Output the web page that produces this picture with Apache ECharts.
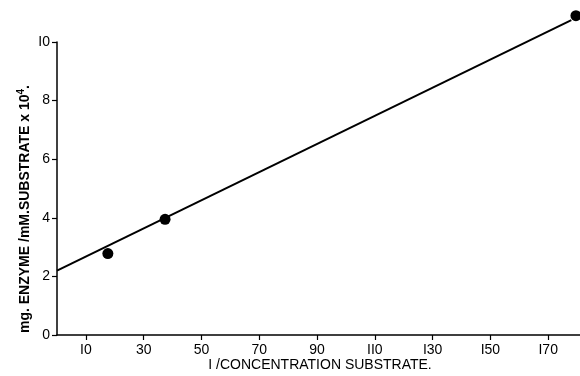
<!DOCTYPE html>
<html><head><meta charset="utf-8">
<script src="https://cdn.jsdelivr.net/npm/echarts@6/dist/echarts.min.js"></script>
<style>html,body{margin:0;padding:0;background:#fff}#c{width:580px;height:376px}</style>
</head><body><div id="c"></div>
<script>
// Data
const pointsX = [17.6, 37.4, 179.6];
const pointsY = [2.78, 3.95, 10.9];
const lineX = [0, 178];
const lineY = [2.2, 10.75];
const xTickValues = [10, 30, 50, 70, 90, 110, 130, 150, 170];
const yTickValues = [0, 2, 4, 6, 8, 10];
const xTitle = 'I /CONCENTRATION SUBSTRATE.';
const yTitle = 'mg. ENZYME /mM.SUBSTRATE x 10';

const font = 'Liberation Sans';
const chart = echarts.init(document.getElementById('c'), null, {renderer: 'canvas'});
chart.setOption({
  animation: false,
  backgroundColor: '#fff',
  grid: {left: 57, right: 0, top: 42, bottom: 41, containLabel: false},
  xAxis: {
    type: 'value', min: 0, max: 181,
    axisLine: {show: true, lineStyle: {color: '#000', width: 1.5}},
    splitLine: {show: false},
    axisTick: {show: true, customValues: xTickValues, length: 5, lineStyle: {color: '#000', width: 1.2}},
    axisLabel: {customValues: xTickValues, color: '#000', fontFamily: font, fontSize: 14, margin: 8,
      formatter: v => String(v).replace(/1/g, 'I')}
  },
  yAxis: {
    type: 'value', min: 0, max: 10,
    axisLine: {show: true, lineStyle: {color: '#000', width: 1.5}},
    splitLine: {show: false},
    axisTick: {show: true, customValues: yTickValues, length: 5, lineStyle: {color: '#000', width: 1.2}},
    axisLabel: {customValues: yTickValues, color: '#000', fontFamily: font, fontSize: 14, margin: 7,
      formatter: v => String(v).replace(/1/g, 'I')}
  },
  series: [
    {type: 'line', clip: false, data: lineX.map((x, i) => [x, lineY[i]]), showSymbol: false, symbol: 'none',
     lineStyle: {color: '#000', width: 2}},
    {type: 'scatter', clip: false, data: pointsX.map((x, i) => [x, pointsY[i]]), symbol: 'circle', symbolSize: 11,
     itemStyle: {color: '#000', opacity: 1}}
  ],
  graphic: [
    {type: 'text', x: 320, y: 365, style: {text: xTitle, fontFamily: font, fontSize: 14, fill: '#000',
      align: 'center', verticalAlign: 'middle'}},
    {type: 'text', x: 25, y: 209, rotation: Math.PI / 2,
      style: {text: '{a|' + yTitle + '}{s|4}{a|.}', align: 'center', verticalAlign: 'middle',
        rich: {a: {fontFamily: font, fontSize: 14, fontWeight: 'bold', color: '#000'},
               s: {fontFamily: font, fontSize: 10, fontWeight: 'bold', color: '#000', padding: [0, 0, 8, 0]}}}}
  ]
});
</script></body></html>
